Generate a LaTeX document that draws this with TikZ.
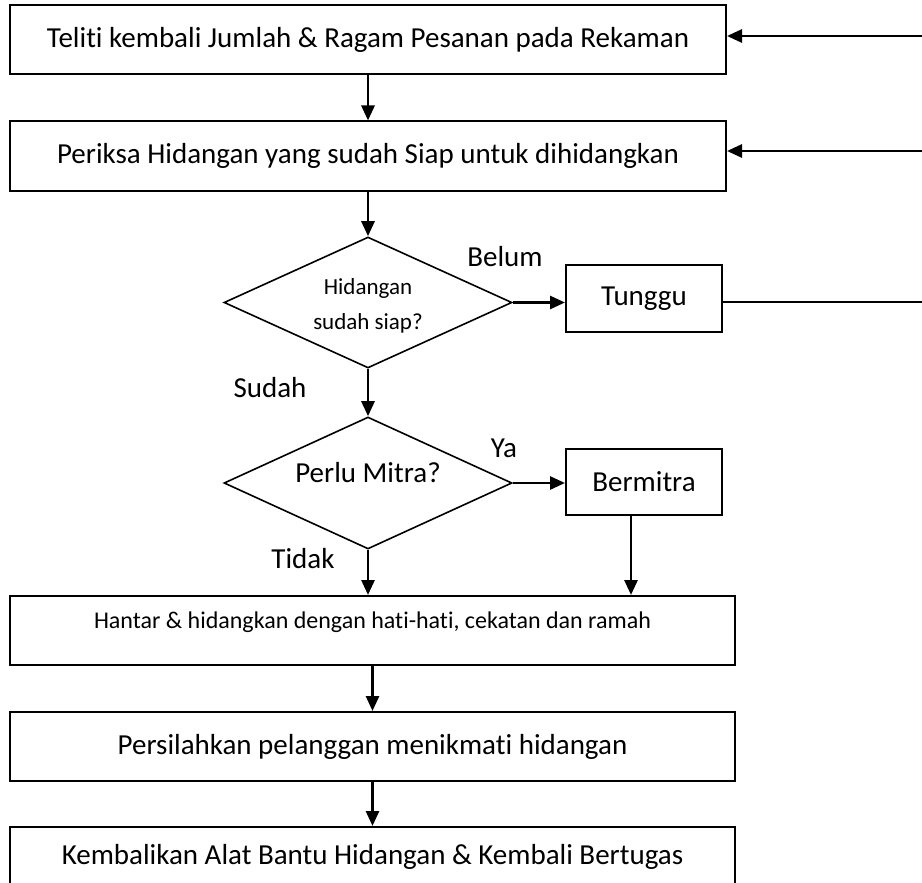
\documentclass[tikz,border=0pt]{standalone}
\usepackage{fontspec}
\setmainfont{Carlito}[Ligatures=NoCommon]
\usetikzlibrary{shapes.geometric,arrows.meta}
\begin{document}
\begin{tikzpicture}[x=1pt,y=-1pt,
  font=\fontsize{29}{35}\selectfont,
  box/.style={draw,line width=2pt,rectangle,inner sep=0pt,minimum width=#1,minimum height=69pt},
  box/.default=716pt,
  decision/.style={draw,line width=1.6pt,diamond,inner sep=0pt,minimum width=288pt,minimum height=131pt},
  conn/.style={line width=2.8pt,-{Triangle[length=15pt,width=13pt]}},
  plain/.style={line width=2.6pt},
  lbl/.style={inner sep=0pt,align=center}]
\clip (0,0) rectangle (922,883);
\node[box] (b1) at (368,40) {Teliti kembali Jumlah \& Ragam Pesanan pada Rekaman};
\node[box] (b2) at (368,156) {Periksa Hidangan yang sudah Siap untuk dihidangkan};
\node[decision] (d1) at (368,302.5) {};
\node[lbl,font=\fontsize{23}{35}\selectfont] (d1t) at (368,306) {Hidangan\\sudah siap?};
\node[box,minimum width=156pt,minimum height=67pt] (t) at (644,298.5) {Tunggu};
\node[decision,minimum height=132pt] (d2) at (368,483) {};
\node[lbl] (d2t) at (368,473) {Perlu Mitra?};
\node[box,minimum width=156pt,minimum height=66pt] (bm) at (644,482) {Bermitra};
\node[box=725pt,font=\fontsize{24}{29}\selectfont,text height=17pt,text depth=21pt] (b3) at (372.5,630.5) {Hantar \& hidangkan dengan hati-hati, cekatan dan ramah};
\node[box=725pt] (b4) at (372.5,746.5) {Persilahkan pelanggan menikmati hidangan};
\node[box=725pt,minimum height=70pt,text height=20pt,text depth=16pt] (b5) at (372.5,862) {Kembalikan Alat Bantu Hidangan \& Kembali Bertugas};

\coordinate (r1) at (922,36);
\coordinate (r2) at (922,151);
\coordinate (r3) at (922,302);

\draw[conn] (b1.south) -- (b2.north);
\draw[conn] (b2.south) -- (d1.north);
\draw[conn] (d1.south) -- (d2.north);
\draw[conn] (d1.east) -- (d1.east -| t.west);
\draw[conn] (d2.east) -- (d2.east -| bm.west);
\draw[conn] (d2.south) -- (d2.south |- b3.north);
\draw[conn] ([xshift=-13pt]bm.south) -- ([xshift=-13pt]bm.south |- b3.north);
\draw[conn] (b3.south) -- (b4.north);
\draw[conn] (b4.south) -- (b5.north);
\draw[plain] (r3 -| t.east) -- (r3);
\draw[conn] (r1) -- (r1 -| b1.east);
\draw[conn] (r2) -- (r2 -| b2.east);

\node[lbl] at (505,257) {Belum};
\node[lbl] at (270,388) {Sudah};
\node[lbl] at (504,448) {Ya};
\node[lbl] at (303,559) {Tidak};
\end{tikzpicture}
\end{document}
